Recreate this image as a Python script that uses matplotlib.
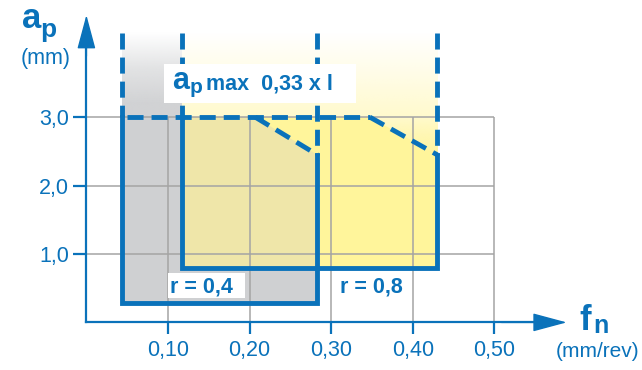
import numpy as np
import matplotlib
matplotlib.use("Agg")
import matplotlib.pyplot as plt
from matplotlib.patches import Polygon, Rectangle
from matplotlib.colors import to_rgb

plt.rcParams['font.family'] = ['Liberation Sans', 'DejaVu Sans']

# ---------------- data ----------------
x_ticks = [0.10, 0.20, 0.30, 0.40, 0.50]
x_labels = ['0,10', '0,20', '0,30', '0,40', '0,50']
y_ticks = [1.0, 2.0, 3.0]
y_labels = ['1,0', '2,0', '3,0']

ap_max = 3.0          # a_p max line
ap_ext = 4.23         # top of dashed extensions

r04_f = [0.044, 0.283]     # feed range r = 0,4
r04_ap_min = 0.28
r04_slope = [(0.207, 3.0), (0.283, 2.45)]

r08_f = [0.117, 0.43]      # feed range r = 0,8
r08_ap_min = 0.80
r08_slope = [(0.3475, 3.0), (0.43, 2.45)]

x_end = 0.5886   # axis arrow tips
y_end = 4.494

# ---------------- style ----------------
BLUE = '#0a72ba'
GRAY = '#cfd0d2'
KHAKI = '#efe6a9'
YELLOW = '#fff59b'
GRID = '#a4a4a4'
LW = 3.5
DASH = (0, (3.3, 1.65))

fig = plt.figure(figsize=(6.42, 3.70), dpi=100)
ax = fig.add_axes([0, 0, 1, 1])

def vgrad(color, ys, alphas, x0, x1, y0, y1):
    yy = np.linspace(y0, y1, 256)
    a = np.interp(yy, ys, alphas)
    img = np.zeros((256, 1, 4))
    img[..., :3] = to_rgb(color)
    img[:, 0, 3] = a
    ax.imshow(img, extent=[x0, x1, y0, y1], origin='lower', aspect='auto',
              interpolation='bilinear', zorder=1)

# gradient extensions above a_p max
vgrad(GRAY, [2.4, 3.2, 3.7, ap_ext], [1, 0.95, 0.6, 0], r04_f[0], r08_f[0], 2.4, ap_ext)
vgrad(YELLOW, [2.4, 2.8, 3.0, 3.6, ap_ext], [1, 0.7, 0.5, 0.25, 0], r08_f[0], r08_f[1], 2.4, ap_ext)

# filled regions
gray_poly = [(r04_f[0], r04_ap_min), (r04_f[1], r04_ap_min), r04_slope[1], r04_slope[0], (r04_f[0], ap_max)]
yel_poly = [(r08_f[0], r08_ap_min), (r08_f[1], r08_ap_min), r08_slope[1], r08_slope[0], (r08_f[0], ap_max)]
ovl_poly = [(r08_f[0], r08_ap_min), (r04_f[1], r08_ap_min), r04_slope[1], r04_slope[0], (r08_f[0], ap_max)]
ax.add_patch(Polygon(gray_poly, closed=True, fc=GRAY, ec='none', zorder=2))
ax.add_patch(Polygon(yel_poly, closed=True, fc=YELLOW, ec='none', zorder=2))
ax.add_patch(Polygon(ovl_poly, closed=True, fc=KHAKI, ec='none', zorder=2.1))

# grid
ax.vlines(x_ticks, 0, ap_max, color=GRID, lw=1.1, zorder=3)
ax.hlines(y_ticks, 0, x_ticks[-1], color=GRID, lw=1.1, zorder=3)

# solid boundaries
ax.plot([r04_f[0], r04_f[0], r04_f[1], r04_f[1]], [ap_max, r04_ap_min, r04_ap_min, r04_slope[1][1]],
        color=BLUE, lw=LW, solid_joinstyle='miter', zorder=4)
ax.plot([r08_f[0], r08_f[0], r08_f[1], r08_f[1]], [ap_max, r08_ap_min, r08_ap_min, r08_slope[1][1]],
        color=BLUE, lw=LW, solid_joinstyle='miter', zorder=4)

# dashed boundaries
dkw = dict(color=BLUE, lw=LW, ls=DASH, zorder=4)
ax.plot([r04_f[0], r04_f[0]], [ap_ext, ap_max], **dkw)
ax.plot([r04_f[1], r04_f[1]], [ap_ext, r04_slope[1][1]], **dkw)
ax.plot([r08_f[0], r08_f[0]], [ap_ext, ap_max], **dkw)
ax.plot([r08_f[1], r08_f[1]], [ap_ext, r08_slope[1][1]], **dkw)
ax.plot([r04_f[0] + 0.006, r08_slope[0][0]], [ap_max, ap_max], **dkw)
ax.plot([p[0] for p in r04_slope], [p[1] for p in r04_slope], **dkw)
ax.plot([p[0] for p in r08_slope], [p[1] for p in r08_slope], **dkw)

# label boxes
ax.add_patch(Rectangle((0.095, 3.21), 0.235, 0.57, fc='white', ec='none', zorder=5))
ax.add_patch(Rectangle((0.100, 0.36), 0.094, 0.36, fc='white', ec='none', zorder=5))

tkw = dict(color=BLUE, fontweight='bold', va='baseline', ha='left', zorder=6)
ax.text(0.1045, 3.408, 'a', fontsize=22, **tkw)
ax.text(0.1262, 3.35, 'p', fontsize=15, **tkw)
ax.text(0.1460, 3.408, 'max  0,33 x l', fontsize=15.5, **tkw)
ax.text(0.1025, 0.444, 'r = 0,4', fontsize=15.5, **tkw)
ax.text(0.3108, 0.444, 'r = 0,8', fontsize=15.5, **tkw)

# axis titles
ax.text(-0.0793, 4.304, 'a', fontsize=25, **tkw)
ax.text(-0.056, 4.177, 'p', fontsize=19, **tkw)
ax.text(-0.0499, 3.864, '(mm)', fontsize=15.5, color=BLUE, ha='center', va='center')
ax.text(0.604, -0.111, 'f', fontsize=25, **tkw)
ax.text(0.6208, -0.159, 'n', fontsize=18, **tkw)
ax.text(0.5755, -0.428, '(mm/rev)', fontsize=15, color=BLUE, ha='left', va='center')

# axes with arrows
for s in ['top', 'right']:
    ax.spines[s].set_visible(False)
ax.spines['left'].set_position(('data', 0))
ax.spines['bottom'].set_position(('data', 0))
ax.spines['left'].set_bounds(0, y_end - 0.3)
ax.spines['bottom'].set_bounds(0, x_end - 0.03)
for s in ['left', 'bottom']:
    ax.spines[s].set_color(BLUE)
    ax.spines[s].set_linewidth(1.6)
    ax.spines[s].set_zorder(4)

akw = dict(arrowstyle='-|>,head_length=1.08,head_width=0.29', mutation_scale=20,
           color=BLUE, lw=1.0, shrinkA=0, shrinkB=0)
ax.annotate('', xy=(0, y_end), xytext=(0, y_end - 0.6), arrowprops=akw, annotation_clip=False)
ax.annotate('', xy=(x_end, 0), xytext=(x_end - 0.08, 0), arrowprops=akw, annotation_clip=False)

ax.set_xticks(x_ticks, x_labels)
ax.set_yticks(y_ticks, y_labels)
ax.tick_params(axis='both', colors=BLUE, labelsize=15.5, width=1.6, direction='out')
ax.tick_params(axis='y', length=9.4, pad=3.2)
ax.tick_params(axis='x', length=8.6, pad=4)

ax.set_xlim(-0.10588, 0.68088)
ax.set_ylim(-0.6959, 4.7135)

fig.savefig('out.png', dpi=100)
